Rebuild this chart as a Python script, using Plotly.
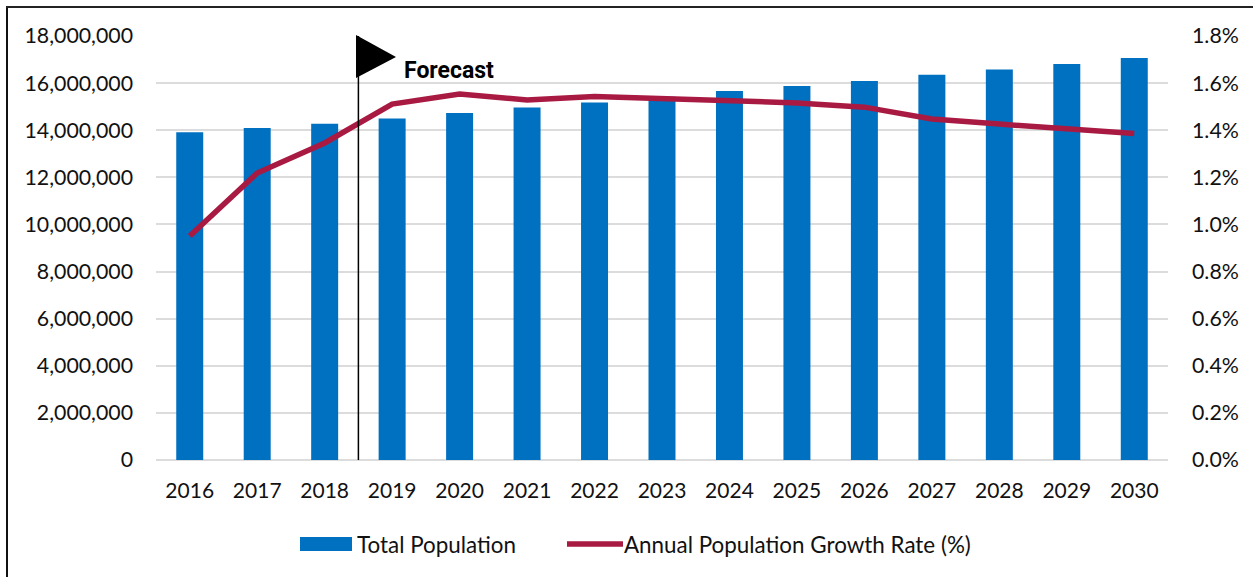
import plotly.graph_objects as go

years = [str(y) for y in range(2016, 2031)]
population = [13910000, 14090000, 14280000, 14500000, 14730000, 14960000, 15180000, 15420000,
              15660000, 15880000, 16090000, 16360000, 16580000, 16810000, 17070000]
growth = [0.951, 1.218, 1.346, 1.511, 1.554, 1.528, 1.543, 1.535,
          1.528, 1.516, 1.498, 1.448, 1.426, 1.405, 1.386]
BAR_NAME = "Total Population"
LINE_NAME = "Annual Population Growth Rate (%)"
FLAG_TEXT = "Forecast"

W, H = 1253, 577
L, R, T, B = 156, 1168, 36, 460
BAR_COLOR = "#0070C0"
LINE_COLOR = "#A91A42"
GRID = "#DCDCDC"
FONT = "Lato"
FS = 21.3
LEGEND_FS = 22.4

def px(x):
    return (x - L) / (R - L)

def py(y):
    return (B - y) / (B - T)

fig = go.Figure()
fig.add_trace(go.Bar(x=years, y=population, name=BAR_NAME, marker_color=BAR_COLOR,
                     marker_line_width=0, showlegend=False))
fig.add_trace(go.Scatter(x=years, y=growth, name=LINE_NAME, mode="lines", yaxis="y2",
                         line=dict(color=LINE_COLOR, width=5.5), showlegend=False))

shapes = [
    # outer frame (left and top only, as cropped in the reference)
    dict(type="line", xref="paper", yref="paper", x0=px(7), x1=px(7), y0=py(7), y1=py(H + 5),
         line=dict(color="#111111", width=2)),
    dict(type="line", xref="paper", yref="paper", x0=px(6), x1=px(W + 5), y0=py(7), y1=py(7),
         line=dict(color="#222222", width=2)),
    # forecast pole and flag
    dict(type="line", xref="x", yref="paper", x0=2.5, x1=2.5, y0=0, y1=1,
         line=dict(color="#000000", width=1.5)),
    dict(type="path", xref="paper", yref="paper",
         path=f"M {px(356)} {py(35)} L {px(396)} {py(57)} L {px(356)} {py(78)} Z",
         fillcolor="#000000", line=dict(width=0)),
    # legend swatches
    dict(type="rect", xref="paper", yref="paper", x0=px(300), x1=px(352), y0=py(537), y1=py(551),
         fillcolor=BAR_COLOR, line=dict(width=0)),
    dict(type="line", xref="paper", yref="paper", x0=px(567), x1=px(623), y0=py(544), y1=py(544),
         line=dict(color=LINE_COLOR, width=5.5)),
]

annotations = [
    dict(text=f"<b>{FLAG_TEXT}</b>", xref="paper", yref="paper", x=px(402), y=py(70),
         showarrow=False, xanchor="left", yanchor="middle",
         font=dict(family="Roboto", size=23, color="#000000")),
    dict(text=BAR_NAME, xref="paper", yref="paper", x=px(355), y=py(544), showarrow=False,
         xanchor="left", yanchor="middle", font=dict(family=FONT, size=LEGEND_FS, color="#111111")),
    dict(text=LINE_NAME, xref="paper", yref="paper", x=px(622), y=py(544), showarrow=False,
         xanchor="left", yanchor="middle", font=dict(family=FONT, size=LEGEND_FS, color="#111111")),
]

fig.update_layout(
    width=W, height=H, autosize=False,
    margin=dict(l=L, r=W - R, t=T, b=H - B, pad=0),
    paper_bgcolor="white", plot_bgcolor="white",
    bargap=0.6,
    font=dict(family=FONT, size=FS, color="#111111"),
    showlegend=False,
    shapes=shapes, annotations=annotations,
    xaxis=dict(type="category", range=[-0.5, 14.5], showgrid=False, zeroline=False, showline=False,
               ticks="", ticklabelstandoff=16, tickfont=dict(size=21)),
    yaxis=dict(range=[0, 18000000], dtick=2000000, tickformat=",", showgrid=True,
               gridcolor=GRID, gridwidth=2, zeroline=True, zerolinecolor=GRID, zerolinewidth=2,
               showline=False, ticks="", ticklabelstandoff=22),
    yaxis2=dict(overlaying="y", side="right", range=[0, 1.8], dtick=0.2, tickformat=".1f",
                ticksuffix="%", showgrid=False, zeroline=False, showline=False, ticks="",
                ticklabelstandoff=23),
)

fig.write_html("out.html", config={"displayModeBar": False},
               post_script="document.body.style.margin='0';")
